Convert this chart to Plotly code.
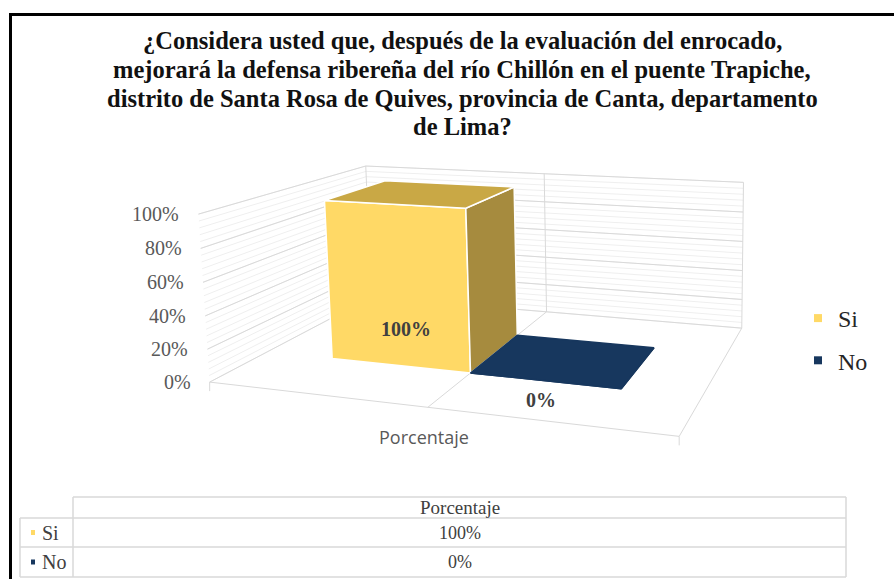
import numpy as np
import plotly.graph_objects as go

# ---------------- data ----------------
title_lines = [
    "¿Considera usted que, después de la evaluación del enrocado,",
    "mejorará la defensa ribereña del río Chillón en el puente Trapiche,",
    "distrito de Santa Rosa de Quives, provincia de Canta, departamento",
    "de Lima?",
]
category = "Porcentaje"
series_names = ["Si", "No"]
series_values = [1.00, 0.00]
y_tick_values = [0.0, 0.2, 0.4, 0.6, 0.8, 1.0]
y_tick_labels = ["0%", "20%", "40%", "60%", "80%", "100%"]
y_max = 1.0
minor_step = 0.04

# ---------------- styles ----------------
front_colors = ["#FFD966", "#17375E"]
top_colors = ["#C9A845", "#17375E"]
side_colors = ["#A68B3E", "#112A47"]
SERIF = "Liberation Serif"
SANS = "Open Sans"
gap_width = 1.0
gap_depth = 1.5

# ---------------- camera (perspective view, fitted to frame landmarks) ----------------
# world coords: u = category axis (0..1), w = depth (0 front .. 1 back), v = value / y_max
calib_world = [
    (0, 0, 0), (1, 0, 0), (1, 1, 0), (1, 1, 1), (0, 0, 1),
    (0.5, 0, 0), (0.5, 1, 0), (0.5, 1, 1),
]
calib_screen = [
    (210, 382), (678, 437), (743, 327), (743, 182), (198, 213),
    (429, 408), (545, 312), (545, 175),
]


def fit_camera(world, screen):
    rows = []
    for (X, Y, Z), (x, y) in zip(world, screen):
        rows.append([X, Y, Z, 1, 0, 0, 0, 0, -x * X, -x * Y, -x * Z, -x])
        rows.append([0, 0, 0, 0, X, Y, Z, 1, -y * X, -y * Y, -y * Z, -y])
    A = np.array(rows, dtype=float)
    _, _, vt = np.linalg.svd(A)
    return vt[-1].reshape(3, 4)


P = fit_camera(calib_world, calib_screen)


def proj(u, w, v):
    p = P @ np.array([u, w, v, 1.0])
    return p[0] / p[2], p[1] / p[2]


def poly(pts):
    xs, ys = [], []
    for (u, w, v) in pts:
        x, y = proj(u, w, v)
        xs.append(x)
        ys.append(y)
    xs.append(xs[0])
    ys.append(ys[0])
    return xs, ys


def segs(seglist):
    xs, ys = [], []
    for a, b in seglist:
        x0, y0 = proj(*a)
        x1, y1 = proj(*b)
        xs += [x0, x1, None]
        ys += [y0, y1, None]
    return xs, ys


fig = go.Figure()

# ---------------- walls: minor gridlines ----------------
n_minor = int(round(y_max / minor_step))
minor_vals = [k * minor_step for k in range(n_minor + 1)]
minor_segs = []
for val in minor_vals:
    v = val / y_max
    minor_segs.append(((0, 0, v), (0, 1, v)))
    minor_segs.append(((0, 1, v), (1, 1, v)))
mx, my = segs(minor_segs)
fig.add_trace(go.Scatter(x=mx, y=my, mode="lines", line=dict(color="#EFEFEF", width=1),
                         hoverinfo="skip", showlegend=False))

# ---------------- walls: major gridlines and frame ----------------
major_segs = []
for val in y_tick_values:
    v = val / y_max
    major_segs.append(((0, 0, v), (0, 1, v)))
    major_segs.append(((0, 1, v), (1, 1, v)))
major_segs += [
    ((0, 1, 0), (0, 1, 1)),
    ((0.5, 1, 0), (0.5, 1, 1)),
    ((1, 1, 0), (1, 1, 1)),
    ((0, 0, 0), (1, 0, 0)),
    ((1, 0, 0), (1, 1, 0)),
    ((0.5, 0, 0), (0.5, 1, 0)),
]
gx, gy = segs(major_segs)
fig.add_trace(go.Scatter(x=gx, y=gy, mode="lines", line=dict(color="#D9D9D9", width=1),
                         hoverinfo="skip", showlegend=False))

# category tick marks below the floor front edge
tick_x, tick_y = [], []
for u in (0, 1):
    x0, y0 = proj(u, 0, 0)
    tick_x += [x0, x0, None]
    tick_y += [y0, y0 + 9, None]
fig.add_trace(go.Scatter(x=tick_x, y=tick_y, mode="lines", line=dict(color="#D9D9D9", width=1),
                         hoverinfo="skip", showlegend=False))

# ---------------- bars ----------------
n_series = len(series_names)
bar_w = 1.0 / (n_series + gap_width)
u_start = 0.5 - bar_w * n_series / 2
bar_d = 1.0 / (1 + gap_depth)
w0, w1 = 0.5 - bar_d / 2, 0.5 + bar_d / 2

for i, (name, val) in enumerate(zip(series_names, series_values)):
    a, b = u_start + i * bar_w, u_start + (i + 1) * bar_w
    v = val / y_max
    faces = [
        ([(a, w0, 0), (b, w0, 0), (b, w0, v), (a, w0, v)], front_colors[i]),
        ([(b, w0, 0), (b, w1, 0), (b, w1, v), (b, w0, v)], side_colors[i]),
        ([(a, w0, v), (b, w0, v), (b, w1, v), (a, w1, v)], top_colors[i] if v > 0 else front_colors[i]),
    ]
    for pts, col in faces:
        xs, ys = poly(pts)
        fig.add_trace(go.Scatter(x=xs, y=ys, mode="lines", fill="toself", fillcolor=col,
                                 line=dict(color="white" if v > 0 else col, width=1.5),
                                 hoverinfo="skip", showlegend=False))

# legend entries
for i, name in enumerate(series_names):
    fig.add_trace(go.Scatter(x=[None], y=[None], mode="markers", name=name, legendgroup=name,
                             marker=dict(symbol="square", size=8, color=front_colors[i])))

annotations = []

# data labels
for i, (name, val) in enumerate(zip(series_names, series_values)):
    a, b = u_start + i * bar_w, u_start + (i + 1) * bar_w
    v = val / y_max
    if v > 0:
        x, y = proj((a + b) / 2, w0, 0.23 * v)
        x += 8
    else:
        x, y = proj((a + b) / 2, w0, 0)
        y += 19
        x -= 3
    annotations.append(dict(x=x, y=y, xref="x", yref="y", text="<b>%d%%</b>" % round(val * 100),
                            showarrow=False, font=dict(family=SERIF, size=20, color="#404040")))

# y-axis tick labels
for val, lab in zip(y_tick_values, y_tick_labels):
    x, y = proj(0, 0, val / y_max)
    annotations.append(dict(x=x - 17, y=y, xref="x", yref="y", text=lab, xanchor="right",
                            showarrow=False, font=dict(family=SERIF, size=20, color="#595959")))

# category label
cx, cy = proj(0.5, 0, 0)
annotations.append(dict(x=cx - 4, y=cy + 30, xref="x", yref="y", text=category, showarrow=False,
                        font=dict(family=SANS, size=18, color="#595959")))

# title (one annotation per line, centred)
title_y = [40, 69, 98, 126]
for line, yy in zip(title_lines, title_y):
    annotations.append(dict(x=462, y=yy, xref="x", yref="y", text="<b>" + line + "</b>",
                            showarrow=False, font=dict(family=SERIF, size=24.5, color="#111111")))

# ---------------- data table ----------------
tbl_left, tbl_split, tbl_right = 20, 73, 846
row_edges = [497, 518, 547, 577]
shapes = []
tcol = "#D9D9D9"
shapes.append(dict(type="line", x0=tbl_split, x1=tbl_right, y0=row_edges[0], y1=row_edges[0],
                   xref="x", yref="y", line=dict(color=tcol, width=1.5)))
for yy in row_edges[1:]:
    shapes.append(dict(type="line", x0=tbl_left, x1=tbl_right, y0=yy, y1=yy,
                       xref="x", yref="y", line=dict(color=tcol, width=1.5)))
shapes.append(dict(type="line", x0=tbl_left, x1=tbl_left, y0=row_edges[1], y1=row_edges[3],
                   xref="x", yref="y", line=dict(color=tcol, width=1.5)))
shapes.append(dict(type="line", x0=tbl_split, x1=tbl_split, y0=row_edges[0], y1=row_edges[3],
                   xref="x", yref="y", line=dict(color=tcol, width=1.5)))
shapes.append(dict(type="line", x0=tbl_right, x1=tbl_right, y0=row_edges[0], y1=row_edges[3],
                   xref="x", yref="y", line=dict(color=tcol, width=1.5)))

mid_x = (tbl_split + tbl_right) / 2
annotations.append(dict(x=mid_x, y=(row_edges[0] + row_edges[1]) / 2, xref="x", yref="y",
                        text=category, showarrow=False,
                        font=dict(family=SERIF, size=19, color="#404040")))
for i, (name, val) in enumerate(zip(series_names, series_values)):
    yc = (row_edges[i + 1] + row_edges[i + 2]) / 2
    annotations.append(dict(x=mid_x, y=yc, xref="x", yref="y", text="%d%%" % round(val * 100),
                            showarrow=False, font=dict(family=SERIF, size=18, color="#404040")))
    annotations.append(dict(x=40, y=yc, xref="x", yref="y", text=name, xanchor="left",
                            showarrow=False, font=dict(family=SERIF, size=20, color="#404040")))
    shapes.append(dict(type="rect", x0=31, x1=35, y0=yc - 2.5, y1=yc + 2.5, xref="x", yref="y",
                       fillcolor=front_colors[i], line=dict(width=0)))

# outer frame (black border, top and left visible)
shapes.append(dict(type="line", x0=10.5, x1=900, y0=14.5, y1=14.5, xref="x", yref="y",
                   line=dict(color="black", width=3)))
shapes.append(dict(type="line", x0=10.5, x1=10.5, y0=13, y1=585, xref="x", yref="y",
                   line=dict(color="black", width=3)))

fig.update_layout(
    width=894, height=579,
    margin=dict(l=0, r=0, t=0, b=0),
    paper_bgcolor="white", plot_bgcolor="white",
    xaxis=dict(range=[0, 894], visible=False, fixedrange=True),
    yaxis=dict(range=[579, 0], visible=False, fixedrange=True),
    showlegend=True,
    legend=dict(x=798 / 894, y=1 - 296 / 579, xanchor="left", yanchor="top",
                xref="paper", yref="paper", tracegroupgap=8,
                font=dict(family=SERIF, size=24, color="#262626"),
                bgcolor="rgba(0,0,0,0)"),
    annotations=annotations,
    shapes=shapes,
)
fig.write_html("out.html")
